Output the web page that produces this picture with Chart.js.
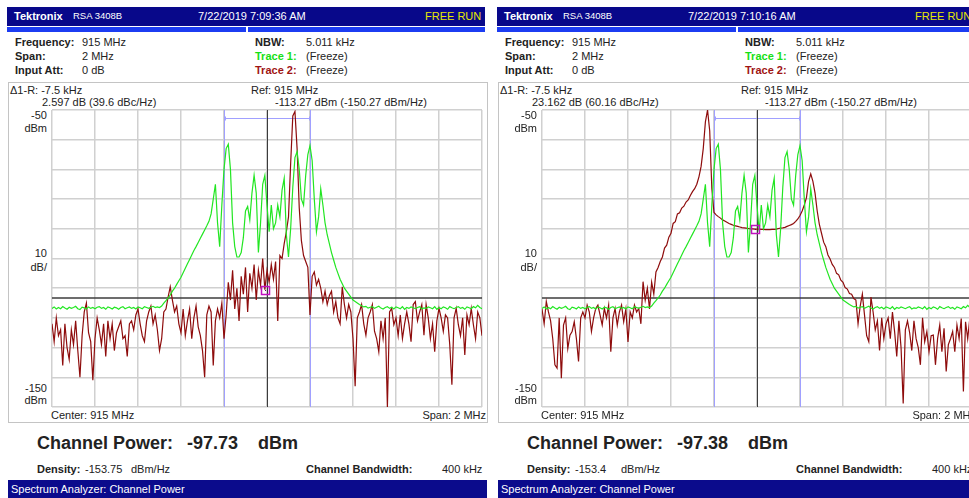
<!DOCTYPE html>
<html>
<head>
<meta charset="utf-8">
<script src="https://cdn.jsdelivr.net/npm/chart.js@4.4.1/dist/chart.umd.min.js"></script>
<style>
  html, body { margin: 0; padding: 0; background: #fff; width: 969px; height: 498px; overflow: hidden; }
  body { position: relative; font-family: "Liberation Sans", Arial, sans-serif; color: #222; }
  .panel { position: absolute; top: 0; width: 490px; height: 498px; }
  .t { position: absolute; white-space: nowrap; font-size: 11px; line-height: 14px; }
  .b { font-weight: bold; }
  .hdr { position: absolute; left: 7px; top: 7px; width: 478px; height: 19px; background: #08088a; }
  .strip { position: absolute; top: 27px; height: 5px; background: #1c3cf2; }
  .frame { position: absolute; left: 8px; top: 82px; width: 478px; height: 339px; border: 1px solid #c4c4c4; }
  .foot { position: absolute; left: 8px; top: 480px; width: 479px; height: 18px; background: #0b0b8c; }
  canvas { position: absolute; left: 50px; top: 109px; }
</style>
</head>
<body>
<div id="p0" class="panel" style="left:0"></div>
<div id="p1" class="panel" style="left:490px"></div>
<script>
// frequency offset from 915 MHz center, kHz (10 kHz per sample)
const freqKHz = Array.from({ length: 201 }, (_, i) => -1000 + i * 10)

// Trace 1 (green, freeze) - same capture in both screens
const trace1Dbm = [
  -116.8, -116.3, -117, -116.5, -116.9, -116.2, -116.7, -117.1, -116.4, -116.8,
  -116.5, -116.1, -116.9, -117.2, -116.4, -116.6, -117, -116.3, -116.8, -116.5,
  -116.9, -116.4, -116.2, -116.8, -116.5, -117.1, -116.3, -116.6, -117, -116.4,
  -116.6, -117.1, -116.5, -116.2, -116.9, -116.6, -116.3, -116.8, -116.5, -117,
  -116.3, -116.6, -116.9, -116.2, -116.5, -116.8, -116.4, -116.1, -116.5, -116.3,
  -116.5, -116, -115, -114.2, -113.3, -112.3, -111, -110, -108.7, -107.5,
  -106.3, -104.8, -103.3, -101.8, -100.3, -98.8, -97.3, -96, -94.6, -93.2,
  -91.8, -90.4, -89, -87.5, -85, -80, -75, -88, -96, -82,
  -70, -63, -61.5, -70, -88, -96, -99.5, -99.5, -98, -93,
  -84, -82.5, -87, -78, -72, -78, -98, -88, -75, -72,
  -82, -91, -82, -90, -88, -82, -86, -77, -73, -92,
  -99.5, -90, -76, -66, -64, -70, -80, -82, -72, -65,
  -62, -67, -80, -91, -86, -76.5, -82, -88, -92, -95,
  -98, -100.5, -103, -105, -107, -108.5, -110, -111, -112, -113,
  -114, -114.5, -115, -115.5, -115.9, -116.3, -116.1, -116.7, -116.4, -116.2,
  -116.8, -116.4, -116.1, -116.7, -117, -116.5, -116.2, -116.8, -116.4, -117,
  -116.3, -116.6, -116.9, -116.2, -117.1, -116.5, -116.8, -116.3, -116.6, -116.9,
  -116.5, -116.2, -117, -116.6, -116.8, -116.3, -116.6, -116.9, -116.2, -117.1,
  -116.5, -116.9, -116.3, -116.6, -117.1, -116.2, -116.6, -116.9, -116.5, -116.2,
  -116.8, -116.5, -117.1, -116.3, -116.6, -116.9, -116.2, -116.6, -115.8, -116.5,
  -116.9,
]

// Trace 2 (dark red) - 7:09:36 capture
const trace2FirstDbm = [
  -122, -128, -120, -126, -124, -136, -122, -130, -134, -124,
  -129, -121, -131, -140, -126, -118, -115, -125, -128, -141,
  -127, -120, -124, -129, -122, -133, -121, -127, -122, -131,
  -125, -123, -121, -127, -126, -133, -122, -121, -124, -119,
  -117, -122, -126, -128, -121, -118, -116, -122, -119, -124,
  -131, -127, -118, -117, -113, -109.5, -114, -118, -116, -122,
  -125, -117, -126, -121, -117, -127, -120, -116, -123, -126,
  -131, -140, -119, -116, -118, -136, -121, -117, -120, -115,
  -127, -119, -108, -114, -104, -117, -110, -121, -106, -112,
  -103, -118, -105, -110, -102, -114, -104, -109, -100, -110.5,
  -104, -108, -102, -107, -101, -121, -99, -100, -95, -91,
  -86, -68, -52, -50.5, -63, -83, -94, -99, -101, -103,
  -119, -106, -104.5, -109, -107, -110, -114.5, -111, -115.5, -112.5,
  -111, -118, -114.5, -120, -122, -109.5, -115.5, -120, -115.5, -118,
  -127, -143, -120, -118, -115.5, -122, -125.8, -120, -118, -115.5,
  -124.5, -127, -131.4, -121, -127, -120, -150, -118, -116.8, -122.3,
  -120, -126, -119, -127, -122, -118, -122, -128, -115.5, -114.5,
  -121, -118, -115.5, -125.8, -115.5, -120, -127, -122, -131.4, -121,
  -116.8, -120, -124.5, -119, -120, -129, -142.5, -120, -116.8, -122.3,
  -126, -120, -132.5, -119, -122.3, -116.8, -122.3, -127, -118, -120,
  -126,
]

// Trace 2 (dark red) - 7:10:16 capture
const trace2SecondDbm = [
  -117, -122, -114.5, -118, -121, -127, -135.8, -136.9, -120, -140.3,
  -122.4, -120, -130.3, -125.8, -124.6, -121.3, -127, -134.7, -120, -118,
  -120, -115.7, -118, -124.6, -120, -116.8, -115.7, -119, -122.4, -116.8,
  -120, -115.7, -131.4, -120, -116.8, -122.4, -118, -115.7, -121.3, -117,
  -128.1, -118, -120, -115.7, -118, -116.8, -122, -107.8, -114, -110,
  -117, -108, -112, -104.5, -103, -101, -99.5, -96.5, -95.5, -92.8,
  -91.5, -88.2, -87.6, -85, -84.6, -83, -82.4, -81, -80.3, -78.8,
  -77.5, -76.5, -75, -72.5, -69, -63, -54, -50, -57, -76.5,
  -84.5, -85.3, -85.9, -86.4, -87, -87.4, -87.8, -88.2, -88.5, -88.8,
  -89, -89.2, -89.4, -89.6, -89.7, -89.8, -89.9, -90, -90, -90.1,
  -90.1, -90.1, -90.2, -90.2, -90.3, -90.3, -90.3, -90.2, -90.2, -90.1,
  -89.9, -89.8, -89.7, -89.5, -89.2, -88.9, -88.6, -88.2, -87.5, -86.7,
  -85.5, -84, -82, -79.5, -74, -71.5, -74, -78, -84, -88.5,
  -91.5, -94.5, -96, -98.8, -100.2, -102, -103, -105, -105.5, -107.3,
  -108, -109.8, -110.3, -111.8, -112, -113.5, -114, -122, -116, -112,
  -119, -126, -128, -113, -118, -124, -121, -131, -120, -127,
  -122, -120, -127, -118, -124.6, -133, -121, -130, -148.8, -124,
  -121, -125, -131, -121, -127, -130, -135.8, -120, -128, -124.6,
  -131.4, -126, -125.8, -135.8, -127, -122.4, -131.4, -123.5, -138, -129,
  -127, -124.6, -131.4, -122.4, -127, -120.2, -144.8, -121.3, -127, -120,
  -125,
]

const refLevelDbm = -113.27
const chanBwKHz = 400
const markerKHz = -7.5
const markerDeltaDb = [2.597, 23.162]
const deltaTexts = [`2.597 dB (39.6 dBc/Hz)`, `23.162 dB (60.16 dBc/Hz)`]
const captureTimes = [`7/22/2019 7:09:36 AM`, `7/22/2019 7:10:16 AM`]
const channelPower = [`-97.73`, `-97.38`]
const densities = [`-153.75`, `-153.4`]
const trace2Sets = [trace2FirstDbm, trace2SecondDbm]

function t(x, cy, s, cls = ``, extra = ``) {
  return `<div class="t ${cls}" style="left:${x}px;top:${cy - 7}px;${extra}">${s}</div>`
}
function tr(xr, cy, s, cls = ``, extra = ``) {
  return `<div class="t ${cls}" style="left:${xr - 120}px;width:120px;text-align:right;top:${cy - 7}px;${extra}">${s}</div>`
}

const overlay = {
  id: `overlay`,
  beforeDatasetsDraw(chart) {
    const { ctx, chartArea: a, scales: { x, y } } = chart
    ctx.save()
    // channel bandwidth edges
    ctx.strokeStyle = `#a0a0ff`
    ctx.lineWidth = 1
    const xl = Math.round(x.getPixelForValue(-chanBwKHz / 2)) + 0.5
    const xr = Math.round(x.getPixelForValue(chanBwKHz / 2)) + 0.5
    ctx.beginPath()
    ctx.moveTo(xl, a.top); ctx.lineTo(xl, a.bottom)
    ctx.moveTo(xr, a.top); ctx.lineTo(xr, a.bottom)
    const yb = a.top + 8.5
    ctx.moveTo(xl, yb); ctx.lineTo(xr, yb)
    ctx.moveTo(xl + 1, yb - 2); ctx.lineTo(xl + 1, yb + 2)
    ctx.moveTo(xr - 1, yb - 2); ctx.lineTo(xr - 1, yb + 2)
    ctx.stroke()
    // reference marker lines
    ctx.strokeStyle = `#3c3c3c`
    ctx.beginPath()
    const xc = Math.round(x.getPixelForValue(0)) + 0.5
    ctx.moveTo(xc, a.top); ctx.lineTo(xc, a.bottom)
    ctx.stroke()
    ctx.lineWidth = 1.5
    ctx.beginPath()
    const yr = y.getPixelForValue(refLevelDbm)
    ctx.moveTo(a.left, yr); ctx.lineTo(a.right, yr)
    ctx.stroke()
    ctx.restore()
  },
  afterDatasetsDraw(chart) {
    const { ctx, scales: { x, y } } = chart
    const k = chart.options.panelIndex
    const mx = x.getPixelForValue(markerKHz)
    const my = y.getPixelForValue(refLevelDbm + markerDeltaDb[k])
    ctx.save()
    ctx.strokeStyle = `#c012c0`
    ctx.lineWidth = 1.5
    ctx.strokeRect(Math.round(mx) - 3.5, Math.round(my) - 3.5, 8, 8)
    ctx.fillStyle = `#600060`
    ctx.fillRect(Math.round(mx), Math.round(my), 1, 1)
    ctx.restore()
  },
}

captureTimes.forEach((time, k) => {
  const p = document.getElementById(`p${k}`)
  let h = ``
  h += `<div class="hdr"></div>`
  h += `<div class="strip" style="left:7px;width:239px"></div>`
  h += `<div class="strip" style="left:248px;width:237px"></div>`
  h += t(14, 16, `Tektronix`, `b`, `color:#fff;font-size:11px`)
  h += t(73, 16, `RSA 3408B`, ``, `color:#fff;font-size:9.5px`)
  h += t(198, 16, time, ``, `color:#fff;font-size:11px`)
  h += t(425, 16, `FREE RUN`, ``, `color:#e8e800;font-size:11px`)

  h += t(15, 42, `Frequency:`, `b`) + t(82, 42, `915 MHz`)
  h += t(15, 56, `Span:`, `b`) + t(82, 56, `2 MHz`)
  h += t(15, 70, `Input Att:`, `b`) + t(82, 70, `0 dB`)
  h += t(255, 42, `NBW:`, `b`) + t(306, 42, `5.011 kHz`)
  h += t(255, 56, `Trace 1:`, `b`, `color:#16e016`) + t(306, 56, `(Freeze)`)
  h += t(255, 70, `Trace 2:`, `b`, `color:#a01414`) + t(306, 70, `(Freeze)`)

  h += `<div class="frame"></div>`
  h += t(10, 90, `Δ1-R: -7.5 kHz`)
  h += t(42, 102, deltaTexts[k])
  h += t(251, 90, `Ref: 915 MHz`)
  h += t(275, 102, `-113.27 dBm (-150.27 dBm/Hz)`)
  h += tr(47, 115, `-50`) + tr(47, 128, `dBm`)
  h += tr(47, 253, `10`) + tr(47, 267, `dB/`)
  h += tr(47, 388, `-150`) + tr(47, 400, `dBm`)
  h += t(51, 415, `Center: 915 MHz`)
  h += tr(486, 415, `Span: 2 MHz`)

  h += `<div class="t b" style="left:37px;top:432px;font-size:18px;line-height:22px">Channel Power:</div>`
  h += `<div class="t b" style="left:187px;top:432px;font-size:18px;line-height:22px">${channelPower[k]}</div>`
  h += `<div class="t b" style="left:258px;top:432px;font-size:18px;line-height:22px">dBm</div>`
  h += t(37, 469, `Density:`, `b`) + t(85, 469, densities[k]) + t(131, 469, `dBm/Hz`)
  h += t(306, 469, `Channel Bandwidth:`, `b`) + t(442, 469, `400 kHz`)
  h += `<div class="foot"></div>`
  h += t(11, 489, `Spectrum Analyzer: Channel Power`, ``, `color:#fff`)
  h += `<canvas id="c${k}" width="434" height="299"></canvas>`
  p.innerHTML = h

  const gridStyle = { color: `#d0d0d0`, lineWidth: 1.5, drawTicks: false }
  new Chart(document.getElementById(`c${k}`), {
    type: `line`,
    data: {
      datasets: [
        {
          label: `Trace 1`,
          data: freqKHz.map((f, i) => ({ x: f, y: trace1Dbm[i] })),
          borderColor: `#22e622`,
          borderWidth: 1.2,
          pointRadius: 0,
        },
        {
          label: `Trace 2`,
          data: freqKHz.map((f, i) => ({ x: f, y: trace2Sets[k][i] })),
          borderColor: `#8e0c0c`,
          borderWidth: 1.2,
          pointRadius: 0,
        },
      ],
    },
    options: {
      panelIndex: k,
      responsive: false,
      animation: false,
      devicePixelRatio: 1,
      layout: { padding: { left: 2, right: 2, top: 1, bottom: 1 } },
      elements: { line: { tension: 0 } },
      plugins: { legend: { display: false }, tooltip: { enabled: false } },
      scales: {
        x: {
          type: `linear`, min: -1000, max: 1000,
          ticks: { display: false, stepSize: 200 },
          grid: gridStyle,
          border: { display: false },
        },
        y: {
          min: -150, max: -50,
          ticks: { display: false, stepSize: 10 },
          grid: gridStyle,
          border: { display: false },
        },
      },
    },
    plugins: [overlay],
  })
})
</script>
</body>
</html>
